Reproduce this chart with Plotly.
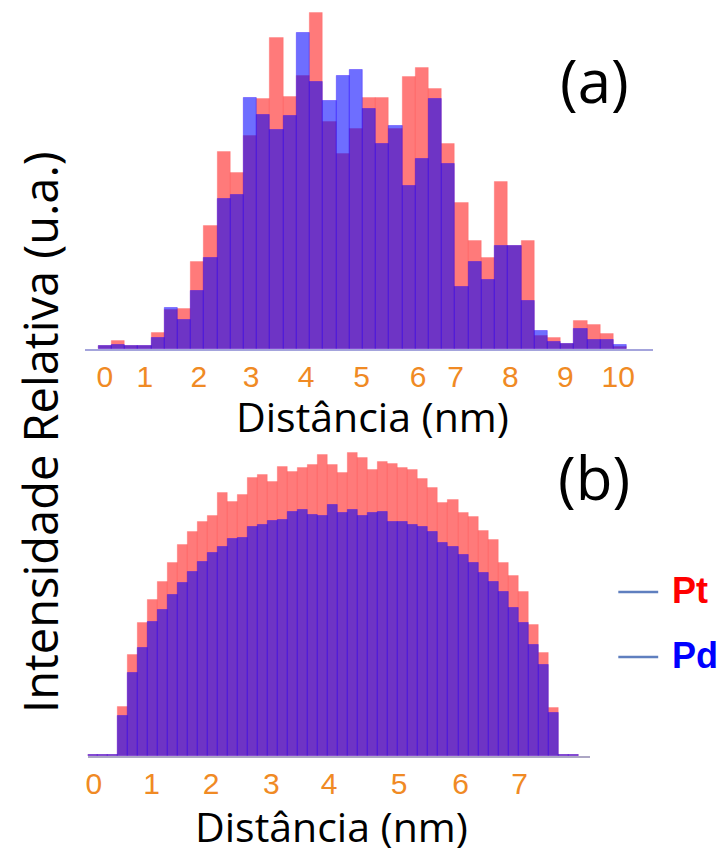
import plotly.graph_objects as go

# ---------------- data (arbitrary units) ----------------
# (a) 40 distance bins, starting at BIN_START_A nm, width BIN_WIDTH_A nm
BIN_START_A = -0.122
BIN_WIDTH_A = 0.2573
PT_A = [3, 8, 3, 3, 16, 39, 40, 87, 123, 197, 176, 213, 250, 311, 252, 273, 336, 227, 195, 220,
        251, 251, 220, 272, 281, 260, 205, 146, 108, 91, 167, 103, 108, 13, 11, 5, 28, 24, 15, 2]
PD_A = [3, 4, 3, 3, 11, 41, 29, 58, 91, 150, 154, 251, 234, 219, 233, 316, 267, 248, 273, 279,
        240, 205, 223, 163, 190, 250, 185, 62, 87, 69, 103, 103, 48, 18, 7, 5, 20, 9, 9, 4]
TICKVALS_A = [0, 0.78, 1.83, 2.85, 3.92, 5.0, 6.1, 6.83, 7.9, 8.97, 10]
TICKTEXT_A = ["0", "1", "2", "3", "4", "5", "6", "7", "8", "9", "10"]

# (b) 49 distance bins
BIN_START_B = -0.105
BIN_WIDTH_B = 0.1648
PT_B = [1.5, 1.5, 1.5,
        49, 101, 133, 156, 174, 193, 211, 224, 234, 240, 263, 254, 261, 278, 281, 274, 289, 284,
        288, 291, 301, 291, 283, 303, 298, 286, 294, 292, 288, 286, 277, 268, 253, 256, 243, 239,
        225, 216, 193, 180, 164, 131, 103, 48,
        1.5, 1.5]
PD_B = [1.5, 1.5, 1.5,
        40, 83, 108, 134, 146, 161, 173, 184, 194, 203, 209, 217, 218, 229, 231, 235, 236, 244,
        246, 241, 240, 251, 243, 246, 240, 243, 244, 234, 234, 231, 229, 224, 213, 209, 201, 193,
        183, 174, 164, 148, 133, 111, 91, 43,
        1.5, 1.5]
TICKVALS_B = [0, 0.95, 1.93, 2.92, 3.87, 5.02, 6.03, 7.0]
TICKTEXT_B = ["0", "1", "2", "3", "4", "5", "6", "7"]

SERIES = ["Pt", "Pd"]

# ---------------- figure ----------------
OFF = 8                      # page body margin of the html page
W, H = 728 - OFF, 848 - OFF
RED = "rgba(255,0,0,0.52)"
BLUE = "rgba(0,0,255,0.57)"
ORANGE = "#F08A24"


def centers(start, width, n):
    return [start + width * (i + 0.5) for i in range(n)]


xa = centers(BIN_START_A, BIN_WIDTH_A, len(PT_A))
xb = centers(BIN_START_B, BIN_WIDTH_B, len(PT_B))

fig = go.Figure()
for vals, col, lcol, name in [(PT_A, RED, "rgba(255,80,80,0.25)", SERIES[0]),
                              (PD_A, BLUE, "rgba(40,0,255,0.35)", SERIES[1])]:
    fig.add_trace(go.Bar(x=xa, y=vals, width=BIN_WIDTH_A, name=name, showlegend=False,
                         marker=dict(color=col, line=dict(color=lcol, width=1)),
                         xaxis="x", yaxis="y"))
for vals, col, lcol, name in [(PT_B, RED, "rgba(255,80,80,0.25)", SERIES[0]),
                              (PD_B, BLUE, "rgba(40,0,255,0.35)", SERIES[1])]:
    fig.add_trace(go.Bar(x=xb, y=vals, width=BIN_WIDTH_B, name=name, showlegend=False,
                         marker=dict(color=col, line=dict(color=lcol, width=1)),
                         xaxis="x2", yaxis="y2"))


def px_x(p):
    return (p - OFF) / W


def px_y(p):
    return 1 - (p - OFF) / H


# pixel geometry of each panel (window pixels)
A_L, A_R, A_B, A_T = 83, 653, 349, 10
A_ZERO, A_SCALE = 103, 51.5
B_L, B_R, B_B, B_T = 86, 590, 756, 440
B_ZERO, B_SCALE = 92, 61.0

tickfont = dict(family="Liberation Sans, Arial, sans-serif", size=30, color=ORANGE)

fig.update_layout(
    width=W, height=H,
    margin=dict(l=0, r=0, t=0, b=0),
    paper_bgcolor="white", plot_bgcolor="white",
    barmode="overlay", bargap=0,
    showlegend=False,
    xaxis=dict(domain=[px_x(A_L), px_x(A_R)],
               range=[(A_L - A_ZERO) / A_SCALE, (A_R - A_ZERO) / A_SCALE],
               tickvals=TICKVALS_A, ticktext=TICKTEXT_A, tickfont=tickfont,
               showgrid=False, zeroline=False, showline=True, linecolor="#A4A4DC", linewidth=2,
               ticks="", anchor="y", ticklabelstandoff=0),
    yaxis=dict(domain=[px_y(A_B), px_y(A_T)], range=[0, A_B - A_T], visible=False, anchor="x"),
    xaxis2=dict(domain=[px_x(B_L), px_x(B_R)],
                range=[(B_L - B_ZERO) / B_SCALE, (B_R - B_ZERO) / B_SCALE],
                tickvals=TICKVALS_B, ticktext=TICKTEXT_B, tickfont=tickfont,
                showgrid=False, zeroline=False, showline=True, linecolor="#ACA6C4", linewidth=2,
                ticks="", anchor="y2", ticklabelstandoff=0),
    yaxis2=dict(domain=[px_y(B_B), px_y(B_T)], range=[0, B_B - B_T], visible=False, anchor="x2"),
)

TITLE_FONT = "Open Sans, DejaVu Sans, sans-serif"
annots = [
    dict(text="Distância (nm)", x=px_x(372), y=px_y(416), size=41, angle=0),
    dict(text="Distância (nm)", x=px_x(330), y=px_y(826), size=41, angle=0),
    dict(text="Intensidade Relativa (u.a.)", x=px_x(38), y=px_y(432), size=47, angle=-90),
    dict(text="(a)", x=px_x(594), y=px_y(80), size=60, angle=0),
    dict(text="(b)", x=px_x(594), y=px_y(477), size=60, angle=0),
]
for a in annots:
    fig.add_annotation(text=a["text"], x=a["x"], y=a["y"], xref="paper", yref="paper",
                       showarrow=False, textangle=a["angle"], xanchor="center", yanchor="middle",
                       font=dict(family=TITLE_FONT, size=a["size"], color="black"))

# legend (dash + coloured label)
for name, col, yc in [(SERIES[0], "#FF0000", 590), (SERIES[1], "#0000FF", 655)]:
    fig.add_shape(type="line", xref="paper", yref="paper",
                  x0=px_x(618), x1=px_x(658), y0=px_y(yc + 2), y1=px_y(yc + 2),
                  line=dict(color="#5F7FBF", width=2.5))
    fig.add_annotation(text="<b>%s</b>" % name, x=px_x(670), y=px_y(yc), xref="paper", yref="paper",
                       showarrow=False, xanchor="left", yanchor="middle",
                       font=dict(family="Liberation Sans, Arial, sans-serif", size=36, color=col))

fig.write_html("out.html")
